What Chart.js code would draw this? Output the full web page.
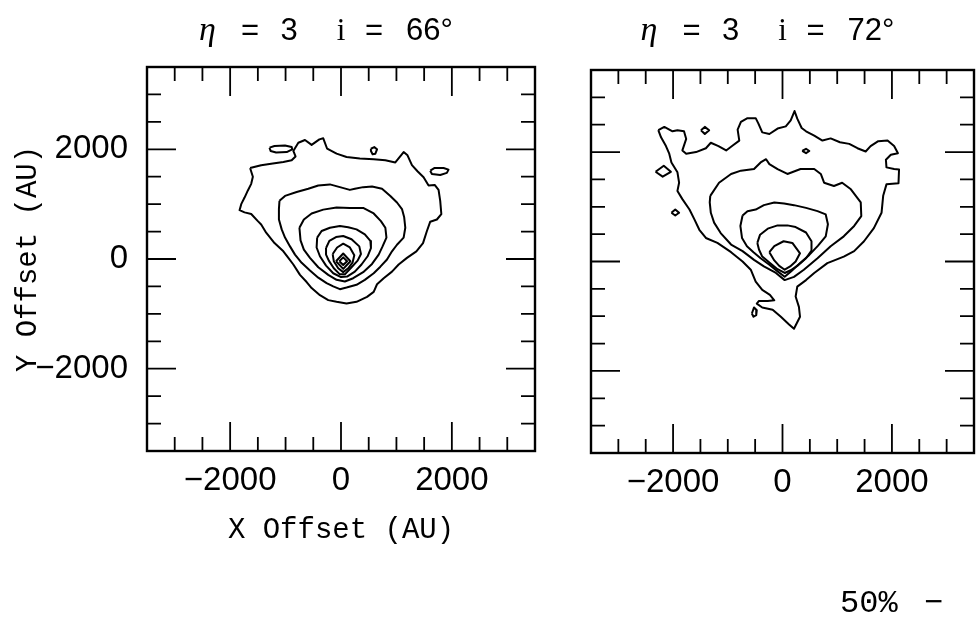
<!DOCTYPE html>
<html><head><meta charset="utf-8">
<script src="https://cdn.jsdelivr.net/npm/chart.js@4.4.0/dist/chart.umd.min.js"></script>
<style>
html,body{margin:0;padding:0;background:#fff;width:976px;height:620px;overflow:hidden;}
canvas{position:absolute;top:0;}
#a{left:0;}
#b{left:560px;}
</style></head><body>
<canvas id="a" width="560" height="620" style="width:560px;height:620px"></canvas>
<canvas id="b" width="416" height="620" style="width:416px;height:620px"></canvas>
<script>
// ---------- data (offsets in AU) ----------
const axisMin = -3500, axisMax = 3500;
const tickValues = [-3000,-2500,-2000,-1500,-1000,-500,0,500,1000,1500,2000,2500,3000];
const majorTickValues = [-2000,0,2000];
const xTickLabels = [-2000,0,2000];
const yTickLabels = [-2000,0,2000];
const etaValues = [3,3];
const inclinations = [66,72];
const xTitle = 'X Offset (AU)';
const yTitle = 'Y Offset (AU)';
const footnote = ['50%', '\u2212'];

// left panel (i = 66 deg) contours
const leftOuter = [[-1640,1660],[-1440,1710],[-1230,1740],[-1040,1770],[-890,1800],[-820,1870],[-860,1970],[-770,2120],[-650,2170],[-530,2080],[-390,2180],[-320,2200],[-250,2010],[-80,1920],[100,1860],[340,1830],[590,1820],[800,1800],[980,1760],[1130,1950],[1200,1890],[1280,1710],[1380,1600],[1490,1490],[1580,1340],[1690,1350],[1760,1260],[1790,1060],[1810,820],[1730,720],[1610,680],[1550,510],[1480,290],[1360,140],[1190,20],[1040,-100],[920,-230],[770,-350],[650,-460],[590,-600],[470,-690],[280,-780],[100,-810],[-80,-780],[-230,-750],[-380,-660],[-530,-530],[-620,-420],[-740,-290],[-860,-100],[-950,20],[-1040,140],[-1200,290],[-1350,480],[-1440,630],[-1500,690],[-1620,820],[-1740,850],[-1830,890],[-1800,1000],[-1740,1120],[-1680,1250],[-1620,1370],[-1590,1500]];
const leftIslandA = [[-1290,2030],[-1200,2060],[-1010,2070],[-890,2040],[-880,2000],[-980,1950],[-1170,1940],[-1270,1970]];
const leftIslandB = [[540,2010],[600,2040],[650,2000],[620,1920],[570,1910],[540,1970]];
const leftIslandC = [[1610,1610],[1690,1660],[1850,1660],[1940,1630],[1910,1570],[1790,1530],[1640,1550]];
const leftC2 = [[-1110,1060],[-1010,1150],[-800,1220],[-590,1280],[-410,1340],[-200,1360],[-20,1310],[160,1260],[250,1280],[400,1310],[560,1320],[740,1280],[890,1150],[1010,1030],[1100,910],[1140,760],[1160,570],[1130,390],[1010,260],[920,140],[830,-10],[710,-140],[590,-260],[430,-380],[280,-470],[100,-520],[-20,-550],[-140,-500],[-260,-440],[-410,-340],[-560,-210],[-710,-70],[-830,80],[-920,230],[-1010,390],[-1070,540],[-1120,720],[-1120,910]];
const leftC3 = [[-750,570],[-670,720],[-530,830],[-320,900],[-80,940],[160,930],[400,930],[590,830],[720,690],[800,570],[820,390],[750,230],[680,80],[560,-90],[400,-240],[220,-350],[70,-410],[-80,-380],[-230,-290],[-410,-150],[-560,20],[-670,170],[-730,340]];
const leftC4 = [[-430,390],[-350,510],[-200,570],[-20,600],[130,580],[280,540],[430,450],[530,330],[540,200],[480,50],[370,-100],[250,-230],[110,-320],[0,-330],[-140,-260],[-270,-120],[-380,50],[-440,210]];
const leftC5 = [[-270,200],[-210,330],[-90,400],[40,420],[190,360],[330,230],[360,90],[300,-30],[190,-150],[70,-280],[-20,-280],[-130,-170],[-220,-30],[-270,80]];
const leftC6 = [[-150,90],[-70,210],[40,280],[160,210],[240,70],[210,-60],[130,-170],[40,-240],[-50,-170],[-130,-40]];
const leftC7 = [[-90,-40],[40,100],[170,-40],[40,-180]];
const leftC8 = [[-30,-40],[40,30],[110,-40],[40,-110]];

// right panel (i = 72 deg) contours
const rightOuter = [[-2270,2400],[-2160,2460],[-2010,2380],[-1920,2400],[-1800,2380],[-1760,2240],[-1830,2030],[-1760,1970],[-1580,2000],[-1400,2070],[-1310,2170],[-1170,2110],[-1030,2030],[-910,2120],[-790,2210],[-820,2410],[-760,2550],[-640,2620],[-490,2620],[-440,2520],[-370,2360],[-240,2330],[-90,2430],[60,2470],[150,2580],[220,2750],[270,2610],[350,2440],[430,2380],[580,2300],[730,2210],[880,2250],[1050,2180],[1220,2150],[1370,2070],[1520,2010],[1610,2110],[1750,2200],[1920,2210],[2040,2110],[2110,1980],[1980,1950],[1890,1860],[1900,1720],[2040,1690],[2130,1680],[2120,1430],[1900,1410],[1840,1200],[1810,890],[1670,610],[1490,370],[1310,190],[1120,90],[820,-30],[580,-210],[430,-340],[270,-460],[240,-640],[300,-830],[320,-1010],[210,-1230],[120,-1150],[-30,-1010],[-180,-880],[-370,-840],[-470,-770],[-430,-720],[-270,-720],[-150,-710],[-230,-610],[-370,-520],[-490,-370],[-580,-150],[-730,0],[-940,170],[-1190,340],[-1400,430],[-1520,580],[-1610,770],[-1700,950],[-1830,1140],[-1920,1290],[-1890,1440],[-1920,1630],[-2030,1810],[-2070,1970],[-2130,2110],[-2220,2270]];
const rightIslandA = [[-1490,2400],[-1420,2460],[-1340,2400],[-1420,2330]];
const rightIslandB = [[360,2020],[430,2060],[490,2020],[430,1980]];
const rightIslandC = [[-2320,1640],[-2170,1750],[-2040,1640],[-2190,1550]];
const rightIslandD = [[-2030,890],[-1960,950],[-1890,890],[-1960,840]];
const rightIslandE = [[-560,-950],[-520,-840],[-470,-890],[-480,-980],[-530,-1010]];
const rightC2 = [[-1320,1200],[-1160,1440],[-940,1600],[-760,1660],[-520,1690],[-400,1810],[-300,1870],[-240,1780],[-90,1690],[90,1600],[330,1690],[580,1690],[700,1600],[760,1440],[940,1380],[1090,1440],[1250,1320],[1430,1080],[1440,830],[1310,650],[1120,460],[880,280],[640,60],[390,-150],[210,-280],[40,-340],[-120,-210],[-340,-90],[-520,30],[-730,190],[-940,310],[-1130,520],[-1250,710],[-1310,890],[-1330,1080]];
const rightC3 = [[-730,840],[-640,920],[-490,950],[-340,1030],[-150,1080],[30,1060],[210,1030],[430,980],[640,920],[790,860],[830,680],[790,460],[650,290],[490,120],[320,-30],[160,-180],[40,-280],[-90,-180],[-240,-60],[-400,60],[-530,170],[-650,280],[-740,430],[-770,650]];
const rightC4 = [[-460,340],[-410,490],[-270,600],[-90,660],[90,660],[240,630],[430,530],[530,370],[530,200],[430,60],[270,-80],[150,-160],[40,-210],[-90,-140],[-240,-20],[-370,90],[-430,220]];
const rightC5 = [[-240,170],[-150,280],[20,370],[180,340],[320,150],[240,0],[140,-90],[40,-150],[-60,-80],[-150,20]];

const leftContours = [leftOuter,leftIslandA,leftIslandB,leftIslandC,leftC2,leftC3,leftC4,leftC5,leftC6,leftC7,leftC8];
const rightContours = [rightOuter,rightIslandA,rightIslandB,rightIslandC,rightIslandD,rightIslandE,rightC2,rightC3,rightC4,rightC5];

// ---------- helpers ----------
const closed = arr => arr.concat([arr[0]]).map(([x,y]) => ({x, y}));
const fmt = v => v < 0 ? '\u2212' + Math.abs(v) : String(v);
const makeDatasets = list => list.map(c => ({
  data: closed(c), showLine: true, borderColor: '#000', borderWidth: 2,
  pointRadius: 0, fill: false, tension: 0, borderJoinStyle: 'round'
}));

const framePlugin = {
  id: 'frameTicks',
  afterDatasetsDraw(chart) {
    const {ctx, chartArea: {left, right, top, bottom}} = chart;
    const xs = chart.scales.x, ys = chart.scales.y;
    ctx.save();
    ctx.strokeStyle = '#000';
    ctx.lineWidth = 1.8;
    ctx.beginPath();
    tickValues.forEach(v => {
      const len = majorTickValues.includes(v) ? 29 : 14;
      const px = xs.getPixelForValue(v), py = ys.getPixelForValue(v);
      ctx.moveTo(px, bottom); ctx.lineTo(px, bottom - len);
      ctx.moveTo(px, top); ctx.lineTo(px, top + len);
      ctx.moveTo(left, py); ctx.lineTo(left + len, py);
      ctx.moveTo(right, py); ctx.lineTo(right - len, py);
    });
    ctx.stroke();
    ctx.lineWidth = 2.4;
    ctx.strokeRect(left, top, right - left, bottom - top);
    ctx.restore();
  }
};

const titlePlugin = {
  id: 'panelTitle',
  afterDraw(chart) {
    const idx = chart.options.plugins.panelTitle.index;
    const {ctx} = chart;
    const x0 = chart.scales.x.getPixelForValue(0);
    const base = 40;
    ctx.save();
    ctx.fillStyle = '#000';
    ctx.textBaseline = 'alphabetic';
    ctx.font = 'italic 34px "Liberation Serif"';
    ctx.textAlign = 'left';
    ctx.fillText('\u03B7', x0 - 142, base);
    ctx.font = '31px "Liberation Sans"';
    ctx.textAlign = 'center';
    ctx.fillText('=', x0 - 91, base);
    ctx.fillText(String(etaValues[idx]), x0 - 52, base);
    ctx.font = '31px "Liberation Serif"';
    ctx.fillText('i', x0, base);
    ctx.font = '31px "Liberation Sans"';
    ctx.fillText('=', x0 + 33, base);
    ctx.textAlign = 'left';
    ctx.fillText(inclinations[idx] + '\u00B0', x0 + 65, base);
    if (idx === 1) {
      ctx.font = '32px "Liberation Mono"';
      ctx.textBaseline = 'middle';
      ctx.fillText(footnote[0], 280, 604);
      ctx.fillText(footnote[1], 364, 604);
    }
    ctx.restore();
  }
};

function buildChart(canvasId, contours, idx, cfg) {
  return new Chart(document.getElementById(canvasId), {
    type: 'scatter',
    data: {datasets: makeDatasets(contours)},
    plugins: [framePlugin, titlePlugin],
    options: {
      responsive: false, animation: false, events: [],
      layout: {padding: cfg.padding},
      plugins: {legend: {display: false}, tooltip: {enabled: false}, title: {display: false},
                panelTitle: {index: idx}},
      scales: {
        x: {
          type: 'linear', position: 'bottom', min: axisMin, max: axisMax,
          afterBuildTicks: s => { s.ticks = xTickLabels.map(v => ({value: v})); },
          afterFit: s => { s.height = cfg.xHeight; },
          grid: {display: false, drawTicks: false}, border: {display: false},
          ticks: {padding: 10, color: '#000', font: {family: 'Liberation Sans', size: 33},
                  callback: fmt, maxRotation: 0, autoSkip: false},
          title: {display: cfg.showXTitle, text: xTitle, color: '#000',
                  font: {family: 'Liberation Mono', size: 29}, padding: {top: 0, bottom: 72}}
        },
        y: {
          type: 'linear', position: 'left', min: axisMin, max: axisMax,
          afterBuildTicks: s => { s.ticks = yTickLabels.map(v => ({value: v})); },
          afterFit: s => { s.width = cfg.yWidth; },
          grid: {display: false, drawTicks: false}, border: {display: false},
          ticks: {display: cfg.showYTicks, padding: 19, color: '#000',
                  font: {family: 'Liberation Sans', size: 33}, callback: fmt, autoSkip: false},
          title: {display: cfg.showYTitle, text: yTitle, color: '#000',
                  font: {family: 'Liberation Mono', size: 29}, padding: {top: 11, bottom: 0}}
        }
      }
    }
  });
}

buildChart('a', leftContours, 0, {padding: {top: 67, left: 0, right: 25, bottom: 0},
  xHeight: 169, yWidth: 147, showXTitle: true, showYTitle: true, showYTicks: true});
buildChart('b', rightContours, 1, {padding: {top: 70, left: 0, right: 2, bottom: 0},
  xHeight: 167, yWidth: 31, showXTitle: false, showYTitle: false, showYTicks: false});
</script>
</body></html>
